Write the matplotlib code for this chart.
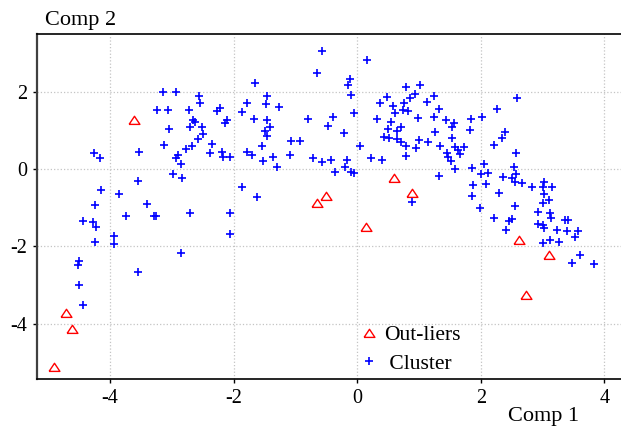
import matplotlib
matplotlib.use("Agg")
import matplotlib.pyplot as plt

plt.rcParams['font.family'] = ['Liberation Serif', 'DejaVu Serif']
plt.rcParams['axes.unicode_minus'] = False

cluster_x = [-4.254, -4.157, -4.145, -4.243, -3.849, -3.526, -3.539, -3.398, -3.244, -3.142,
             -2.932, -3.056, -3.040, -3.121, -2.985, -2.932, -2.899, -2.843, -2.839, -2.770,
             -2.678, -2.716, -2.697, -2.657, -2.624, -2.564, -2.540, -2.503, -2.500, -2.581,
             -2.341, -2.381, -2.268, -2.212, -2.195, -2.179, -2.114, -2.134, -2.058, -1.867,
             -1.783, -1.864, -1.786, -1.699, -1.665, -1.653, -1.545, -1.529, -1.613, -1.462,
             -1.483, -1.464, -1.407, -1.491, -1.454, -1.367, -1.297, -1.260, -1.071, -1.084,
             -0.922, -0.795, -0.715, -0.653, -0.566, -2.697, -2.050, -2.058, -3.288, -3.263,
             -3.741, -4.432, -4.280, -4.226, -3.940, -3.940, -4.243, -2.851, -4.497, -4.513,
             -3.552, -4.506, -4.442,
             -0.574, -0.423, -0.391, -0.467, -0.354, -0.208, -0.189, -0.172, -0.104, -0.046,
             -0.116, -0.140, -0.100, -0.059, 0.046, 0.155, 0.224, 0.410, 0.321, 0.370,
             0.491, 0.579, 0.616, 0.548, 0.504, 0.431, 0.512, 0.642, 0.710, 0.638,
             0.710, 0.791, 0.763, 0.737, 0.818, 0.863, 0.944, 1.025, 0.791, 0.791,
             0.977, 0.952, 1.004, 1.147, 1.126, 1.236, 1.317, 1.236, 1.263, 1.344,
             1.328, 1.443, 1.572, 1.535, 1.540, 1.576, 1.446, 1.478, 1.511, 1.637,
             1.665, 1.734, 1.584, 1.843, 1.826, 1.854, 1.880, 1.864, 1.991, 2.017,
             2.012, 2.058, 2.113, 2.085, 2.220, 2.258, 2.339, 2.396, 2.288, 2.220,
             2.368, 2.532, 2.506, 2.563, 2.558, 2.663, 2.571, 2.582, 2.825, 3.016,
             3.003, 3.157, 3.029, 3.110, 3.003, 2.551, 2.462, 2.511, 2.409, 2.922,
             3.113, 3.145, 2.922, 3.003, 3.019, 3.356, 3.408, 3.242, 3.399, 3.582,
             3.518, 3.000, 3.113, 3.259, 3.610, 3.474, 3.838, 0.893]
cluster_y = [0.406, 0.277, -0.556, -0.939, -0.647, 0.448, -0.310, -0.918, 1.527, 1.992,
             2.005, 1.527, 1.027, 0.621, -0.142, 0.277, 0.362, 0.129, -0.233, 0.530,
             0.590, 1.527, 1.094, 1.268, 1.216, 1.889, 1.700, 1.094, 0.906, 0.776,
             0.647, 0.427, 1.493, 1.578, 0.448, 0.318, 1.278, 1.203, 0.318, 1.483,
             1.708, -0.453, 0.448, 0.375, 1.301, 2.233, 0.590, 0.207, -0.724, 1.889,
             1.690, 1.276, 1.087, 0.983, 0.849, 0.318, 0.047, 1.604, 0.719, 0.362,
             0.714, 1.304, 0.285, 2.479, 3.066, -1.146, -1.131, -1.682, -1.221, -1.203,
             -1.216, -1.338, -1.364, -1.508, -1.734, -1.941, -1.881, -2.166, -2.373, -2.484,
             -2.673, -3.001, -3.519,
             0.189, 0.246, 1.338, 1.113, -0.078, 0.944, 0.047, 0.233, -0.070, -0.111,
             2.329, 2.173, 1.915, 1.462, 0.590, 2.820, 0.285, 0.241, 1.301, 1.700,
             1.863, 1.635, 1.449, 1.211, 1.040, 0.828, 0.792, 0.978, 1.094, 0.768,
             0.706, 2.114, 1.695, 1.527, 1.501, 1.829, 1.946, 2.173, 0.608, 0.329,
             1.332, 0.536, 0.743, 0.686, 1.741, 1.889, 1.558, 1.338, 0.952, 0.587,
             -0.191, 1.278, 1.180, 1.087, 0.815, 0.569, 0.414, 0.323, 0.220, 0.492,
             0.388, 0.577, 0.013, 1.294, 1.019, 0.018, -0.414, -0.693, -1.009, 1.340,
             -0.142, 0.142, -0.096, -0.388, 0.629, 1.560, 0.797, 0.950, -0.621, -1.255,
             -0.199, 0.044, -0.220, -0.142, -0.329, -0.370, 0.406, 1.837, -0.458, -0.329,
             -0.458, -0.473, -0.639, -0.802, -0.880, -0.962, -1.358, -1.289, -1.586, -1.105,
             -1.138, -1.268, -1.423, -1.449, -1.534, -1.327, -1.307, -1.568, -1.596, -1.599,
             -1.752, -1.922, -1.837, -1.881, -2.212, -2.432, -2.463, -0.854]

outlier_x = [-3.611, -0.653, -0.504, 0.601, 0.891, 0.143, 2.616, 3.108, 2.739, -4.712, -4.620, -4.901]
outlier_y = [1.276, -0.880, -0.686, -0.241, -0.608, -1.493, -1.827, -2.235, -3.260, -3.734, -4.148, -5.115]

x_ticks = [-4, -2, 0, 2, 4]
y_ticks = [-4, -2, 0, 2]
x_label = "Comp 1"
y_label = "Comp 2"
legend_labels = ["Out-liers", " Cluster"]

W, H = 621, 426
fig = plt.figure(figsize=(W / 100, H / 100), dpi=100)
ax = fig.add_axes([36.7 / W, 1 - 379 / H, 1 - 36.7 / W, (379 - 34) / H])

tri = [(-1.0, -0.72), (1.0, -0.72), (0.0, 0.78), (-1.0, -0.72)]

ax.plot(outlier_x, outlier_y, linestyle='none', marker=tri, ms=7.8,
        mfc='none', mec='#ff0000', mew=1.0, label=legend_labels[0], zorder=3)
ax.plot(cluster_x, cluster_y, linestyle='none', marker='+', ms=6.2,
        mec='#0000ff', mew=1.2, label=legend_labels[1], zorder=3)

ax.set_xlim(-5.186, 4.27)
ax.set_ylim(-5.433, 3.493)
ax.set_xticks(x_ticks)
ax.set_yticks(y_ticks)
ax.grid(True, color='#c4c4c4', linestyle=':', linewidth=0.9)
ax.set_axisbelow(True)

ax.spines['right'].set_visible(False)
ax.spines['left'].set_color('#404040')
ax.spines['left'].set_linewidth(1.6)
ax.spines['top'].set_linewidth(1.2)
ax.spines['bottom'].set_linewidth(1.2)
ax.tick_params(axis='both', direction='out', length=3, width=1, labelsize=14.5, pad=4)

fig.text(45 / W, 1 - 20 / H, y_label, fontsize=16, ha='left', va='center')
fig.text(508 / W, 1 - 416 / H, x_label, fontsize=16, ha='left', va='center')

leg = ax.legend(loc='upper left', bbox_to_anchor=(358 / W, 1 - 325 / H),
                bbox_transform=fig.transFigure, frameon=False, fontsize=15.5,
                handlelength=1.0, handletextpad=0.2, labelspacing=0.4,
                borderpad=0, borderaxespad=0)

fig.savefig("out.png", dpi=100)
